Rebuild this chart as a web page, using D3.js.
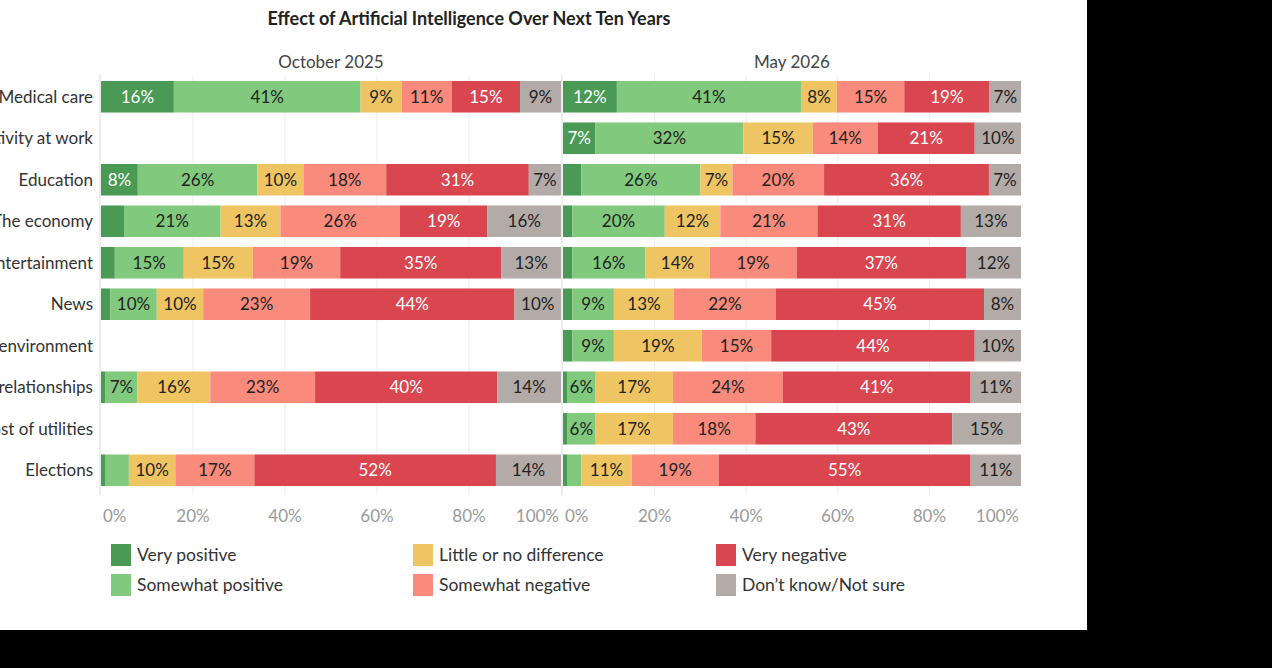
<!DOCTYPE html>
<html><head><meta charset="utf-8">
<script src="https://cdn.jsdelivr.net/npm/d3@7"></script>
<style>
body{margin:0;background:#000;overflow:hidden}
text{font-family:Lato,"Open Sans",sans-serif}
</style>
</head><body><svg id="c" width="1272" height="668"></svg>
<script>
const title = "Effect of Artificial Intelligence Over Next Ten Years";
const categories = ["Medical care","Productivity at work","Education","The economy","Entertainment","News","The environment","Personal relationships","Cost of utilities","Elections"];
const responses = ["Very positive","Somewhat positive","Little or no difference","Somewhat negative","Very negative","Don’t know/Not sure"];
const periods = ["October 2025","May 2026"];
// values per category in response order; null = not asked in that wave
const oct2025 = [[16,41,9,11,15,9], null, [8,26,10,18,31,7], [5,21,13,26,19,16], [3,15,15,19,35,13], [2,10,10,23,44,10], null, [1,7,16,23,40,14], null, [1,5,10,17,52,14]];
const may2026 = [[12,41,8,15,19,7], [7,32,15,14,21,10], [4,26,7,20,36,7], [2,20,12,21,31,13], [2,16,14,19,37,12], [2,9,13,22,45,8], [2,9,19,15,44,10], [1,6,17,24,41,11], [1,6,17,18,43,15], [1,3,11,19,55,11]];
const tickValues = [0,0.2,0.4,0.6,0.8,1];
const colors = ["#4a9a55","#80c97d","#efc563","#fa8a7b","#d9464f","#b3aba8"];
const labelColors = ["#ffffff","#222222","#222222","#222222","#ffffff","#222222"];

const svg = d3.select("#c");
svg.append("rect").attr("width",1087).attr("height",630).attr("fill","#fff");

svg.append("text").attr("x",469).attr("y",25).attr("text-anchor","middle")
  .attr("font-size",18).attr("font-weight","bold").attr("fill","#222").text(title);

const y = d3.scaleBand().domain(categories).range([76,491]).paddingInner(0.24).paddingOuter(0.12);
const color = d3.scaleOrdinal(responses, colors);
const panels = [
  {name: periods[0], data: oct2025, x: d3.scaleLinear([0,1],[101,561])},
  {name: periods[1], data: may2026, x: d3.scaleLinear([0,1],[563,1021])}
];

// row labels
svg.append("g").selectAll("text").data(categories).join("text")
  .attr("x",93).attr("y",d=>y(d)+y.bandwidth()/2).attr("dy","0.35em")
  .attr("text-anchor","end").attr("font-size",17).attr("fill","#333").text(d=>d);

panels.forEach(p => {
  const g = svg.append("g");
  const [x0,x1] = p.x.range();
  // gridlines
  g.selectAll("line.grid").data(tickValues.slice(1,-1)).join("line")
    .attr("x1",d=>p.x(d)).attr("x2",d=>p.x(d)).attr("y1",75).attr("y2",495)
    .attr("stroke","#ececec").attr("stroke-width",1);
  g.append("line").attr("x1",x0-1).attr("x2",x0-1).attr("y1",75).attr("y2",495).attr("stroke","#dcdcdc");
  // header
  g.append("text").attr("x",(x0+x1)/2).attr("y",68).attr("text-anchor","middle")
    .attr("font-size",17).attr("fill","#444").text(p.name);
  // stacked bars
  const rows = categories.map((c,i)=>({cat:c, vals:p.data[i]})).filter(r=>r.vals);
  const table = rows.map(r=>{const o={cat:r.cat}; responses.forEach((k,j)=>o[k]=r.vals[j]); return o;});
  const series = d3.stack().keys(responses).offset(d3.stackOffsetExpand)(table);
  const sg = g.selectAll("g.s").data(series).join("g");
  sg.selectAll("rect").data(s=>s.map(d=>({d, key:s.key}))).join("rect")
    .attr("x",o=>p.x(o.d[0])).attr("width",o=>p.x(o.d[1])-p.x(o.d[0]))
    .attr("y",o=>y(o.d.data.cat)).attr("height",y.bandwidth())
    .attr("fill",o=>color(o.key));
  sg.selectAll("text").data(s=>s.map(d=>({d, key:s.key, i:s.index})).filter(o=>o.d.data[o.key]>=6)).join("text")
    .attr("x",o=>(p.x(o.d[0])+p.x(o.d[1]))/2).attr("y",o=>y(o.d.data.cat)+y.bandwidth()/2).attr("dy","0.35em")
    .attr("text-anchor","middle").attr("font-size",17).attr("fill",o=>labelColors[o.i])
    .text(o=>o.d.data[o.key]+"%");
  // axis
  g.selectAll("text.tick").data(tickValues).join("text")
    .attr("x",(d,i)=> i===0 ? p.x(d)+2 : i===tickValues.length-1 ? p.x(d)-2 : p.x(d))
    .attr("text-anchor",(d,i)=> i===0 ? "start" : i===tickValues.length-1 ? "end" : "middle")
    .attr("y",522).attr("font-size",17).attr("fill","#9a9a9a")
    .text(d=>d3.format(".0%")(d));
});

// legend
const lg = svg.append("g");
const colX = [111,413,716], rowY = [555,585];
responses.forEach((r,i)=>{
  const cx = colX[Math.floor(i/2)], cy = rowY[i%2];
  lg.append("rect").attr("x",cx).attr("y",cy-11).attr("width",20).attr("height",22).attr("fill",color(r));
  lg.append("text").attr("x",cx+26).attr("y",cy).attr("dy","0.35em").attr("font-size",17.5).attr("fill","#333").text(r);
});
</script>
</body></html>
